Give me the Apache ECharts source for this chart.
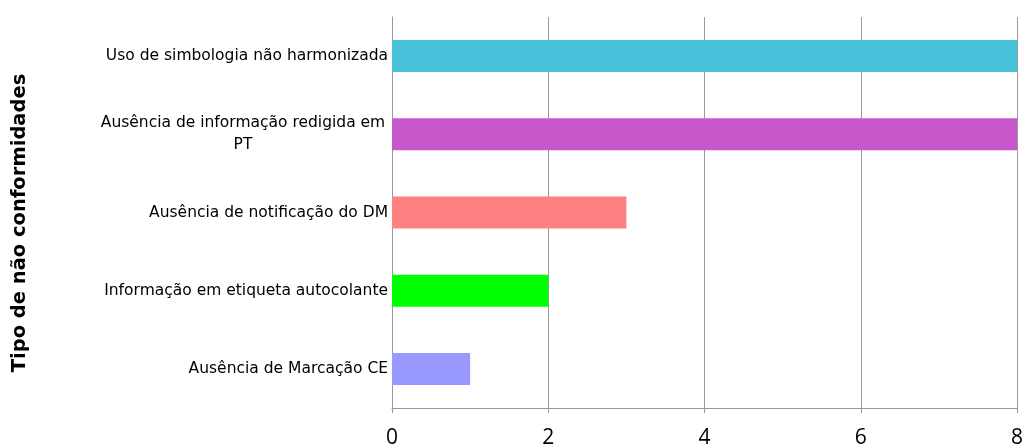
<!DOCTYPE html>
<html>
<head>
<meta charset="utf-8">
<script src="https://cdn.jsdelivr.net/npm/echarts@6/dist/echarts.min.js"></script>
<style>
  html, body { margin: 0; padding: 0; background: #fff; overflow: hidden; }
  #chart { width: 1022px; height: 446px; }
</style>
</head>
<body>
<div id="chart"></div>
<script>
// top to bottom, as in the picture
const categories = [
  'Uso de simbologia não harmonizada',
  'Ausência de informação redigida em\nPT',
  'Ausência de notificação do DM',
  'Informação em etiqueta autocolante',
  'Ausência de Marcação CE'
]
const counts = [8, 8, 3, 2, 1]
const barColors = ['#46c1d9', '#c957cc', '#ff8080', '#00ff00', '#9999ff']
const xTicks = [0, 2, 4, 6, 8]
const axisTitle = 'Tipo de não conformidades'

const chart = echarts.init(document.getElementById('chart'))

chart.setOption({
  animation: false,
  grid: { left: 392, right: 5, top: 17, bottom: 38, outerBoundsMode: 'none', containLabel: false },
  graphic: [{
    type: 'text',
    x: 20,
    y: 223,
    rotation: Math.PI / 2,
    style: {
      text: axisTitle,
      fill: '#000',
      font: 'bold 19.5px "DejaVu Sans"',
      align: 'center',
      verticalAlign: 'middle'
    }
  }],
  xAxis: {
    type: 'value',
    min: xTicks[0],
    max: xTicks[xTicks.length - 1],
    interval: 2,
    axisLine: { show: true, lineStyle: { color: '#999', width: 1 } },
    axisTick: { show: true, length: 5, lineStyle: { color: '#999' } },
    axisLabel: {
      color: '#000',
      fontFamily: 'Open Sans',
      fontSize: 21,
      margin: 20,
      showMaxLabel: true
    },
    splitLine: { show: true, lineStyle: { color: '#999', width: 1 } }
  },
  yAxis: {
    type: 'category',
    inverse: true,
    data: categories,
    axisLine: { show: true, lineStyle: { color: '#999', width: 1 } },
    axisTick: { show: false },
    axisLabel: {
      color: '#000',
      fontFamily: 'DejaVu Sans',
      fontSize: 15.5,
      margin: 4,
      formatter: function (val) {
        if (val.indexOf('\n') < 0) return val
        return val.split('\n').map(s => '{c|' + s + '}').join('\n')
      },
      rich: {
        c: {
          width: 290,
          align: 'center',
          fontFamily: 'DejaVu Sans',
          fontSize: 15.5,
          lineHeight: 22,
          color: '#000'
        }
      }
    }
  },
  series: [{
    type: 'bar',
    barWidth: 32,
    data: counts.map((v, i) => ({ value: v, itemStyle: { color: barColors[i] } }))
  }]
})
</script>
</body>
</html>
